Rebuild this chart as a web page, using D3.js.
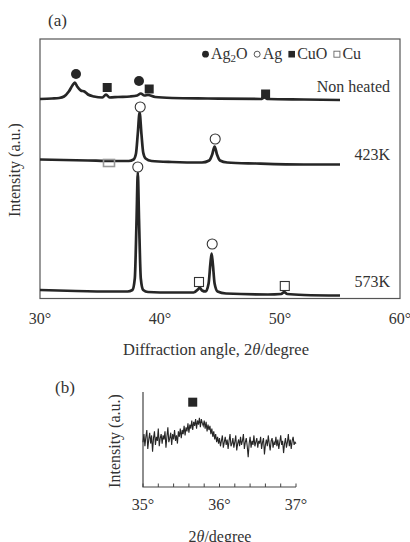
<!DOCTYPE html>
<html>
<head>
<meta charset="utf-8">
<script src="https://cdnjs.cloudflare.com/ajax/libs/d3/7.8.5/d3.min.js"></script>
<style>
  body { margin: 0; background: #fff; }
  text { font-family: "Liberation Serif", "Times New Roman", serif; fill: #333; }
</style>
</head>
<body>
<div id="chart"></div>
<script>
// (a) XRD patterns, [2theta, intensity a.u. incl. offset]
const nonHeated = [[30,199.5],[31,200],[31.6,200.5],[32,202],[32.4,207],[32.7,213],[32.9,216],[33.1,212],[33.4,208],[33.7,207],
  [34.0,204],[34.5,202],[35.2,201],[35.5,204],[35.8,201],[36.5,201.5],[37.5,202],[38.1,203],[38.4,205],[38.7,203],
  [39.0,203.5],[39.6,201.5],[41,200.5],[44,200],[48.4,199.5],[48.7,201],[49,199.5],[52,199],[55,198.5]];
const heated423 = [[30,139],[34,138],[36,137.5],[37.4,137.5],[37.8,139],[38.0,145],[38.15,165],[38.3,186],[38.45,165],[38.6,146],
  [38.8,140],[39.3,137.5],[41,136.5],[43.5,136],[44.1,138],[44.35,144],[44.55,152],[44.75,144],[45.0,138],[45.6,136],
  [48,135],[52,134],[55,134]];
const heated573 = [[30,8.5],[33,7.5],[36,7],[37.3,7],[37.7,8.5],[37.9,20],[38.05,80],[38.15,126],[38.25,80],[38.4,20],
  [38.6,8.5],[39,6.5],[41,6],[42.8,6],[43.15,9],[43.3,11],[43.5,8],[43.8,7],[44.05,15],[44.2,35],[44.3,45],[44.4,35],
  [44.55,15],[44.8,7],[45.5,5],[49,4],[50.1,4.5],[50.35,6.5],[50.6,4.5],[52,3.5],[55,3]];
const traceNames = ["Non heated", "423K", "573K"];
const traceLabelY = [206.5, 138.5, 11.5];

// peak markers [2theta, intensity]
const ag2oMarks = [[33.0,224.5],[38.25,217.5]];
const agMarks = [[38.35,191.5],[44.6,159.5],[38.15,131.5],[44.35,54.5]];
const cuoMarks = [[35.6,211],[39.1,209.5],[48.8,204.5]];
const cuMarks = [[43.25,16.5],[50.4,12.5]];
const cuFaint = [[35.75,135.5]];

const xTicksA = [30, 40, 50, 60];

// (b) zoomed scan 35-37 deg
const scanStart = 35, scanStep = 0.0125;
const scan = [
  47,53,44,51,56,42,49,54,46,52,40,50,55,45,51,48,57,44,50,53,
  46,52,49,55,43,51,58,47,50,54,45,53,49,56,48,52,46,55,51,57,
  50,56,53,59,52,58,55,61,54,60,57,63,56,62,59,64,57,63,60,65,
  58,64,61,59,63,57,62,55,60,56,59,53,57,51,55,49,53,47,51,46,
  50,44,48,52,43,47,51,45,49,42,48,53,44,46,50,43,47,52,41,46,
  49,44,51,45,48,53,42,47,50,44,36,46,51,43,48,45,52,44,47,50,
  43,48,46,51,42,47,50,38,45,49,44,52,46,41,48,50,43,47,45,51,
  44,49,42,47,52,45,48,39,46,50,43,47,53,44,49,42,48,51,45,47,
  46];
const cuoMarkB = [[35.65, 76.5]];
const xTicksB = [35, 36, 37];

const width = 410, height = 542;
const svg = d3.select("#chart").append("svg")
  .attr("width", width).attr("height", height);

// ---------- panel (a)
const x = d3.scaleLinear().domain([30, 60]).range([40, 400]);
const y = d3.scaleLinear().domain([0, 259.5]).range([298.5, 39]);

svg.append("text").attr("x", 48).attr("y", 26).style("font-size", "17px").text("(a)");

svg.append("rect")
  .attr("x", x(30)).attr("y", y(259.5))
  .attr("width", x(60) - x(30)).attr("height", y(0) - y(259.5))
  .attr("fill", "none").attr("stroke", "#555").attr("stroke-width", 1.2);

const line = d3.line().x(d => x(d[0])).y(d => y(d[1])).curve(d3.curveMonotoneX);

svg.append("g").selectAll("path")
  .data([nonHeated, heated423, heated573])
  .join("path")
  .attr("d", line)
  .attr("fill", "none")
  .attr("stroke", "#262626")
  .attr("stroke-width", 2.7)
  .attr("stroke-linejoin", "round");

svg.append("g").selectAll("text")
  .data(traceNames)
  .join("text")
  .attr("x", 390)
  .attr("y", (d, i) => y(traceLabelY[i]))
  .attr("text-anchor", "end")
  .style("font-size", "16px")
  .text(d => d);

// markers
svg.append("g").selectAll("circle").data(ag2oMarks).join("circle")
  .attr("cx", d => x(d[0])).attr("cy", d => y(d[1])).attr("r", 5).attr("fill", "#262626");
svg.append("g").selectAll("circle").data(agMarks).join("circle")
  .attr("cx", d => x(d[0])).attr("cy", d => y(d[1])).attr("r", 5)
  .attr("fill", "#fff").attr("stroke", "#333").attr("stroke-width", 1.1);
svg.append("g").selectAll("rect").data(cuoMarks).join("rect")
  .attr("x", d => x(d[0]) - 4.5).attr("y", d => y(d[1]) - 4.5)
  .attr("width", 9).attr("height", 9).attr("fill", "#262626");
svg.append("g").selectAll("rect").data(cuMarks).join("rect")
  .attr("x", d => x(d[0]) - 4.5).attr("y", d => y(d[1]) - 4.5)
  .attr("width", 9).attr("height", 9)
  .attr("fill", "#fff").attr("stroke", "#333").attr("stroke-width", 1.1);
svg.append("g").selectAll("rect").data(cuFaint).join("rect")
  .attr("x", d => x(d[0]) - 5.5).attr("y", d => y(d[1]) - 3.5)
  .attr("width", 11).attr("height", 7)
  .attr("fill", "none").attr("stroke", "#999").attr("stroke-width", 1.6);

// legend
const legend = svg.append("g").attr("transform", "translate(202,59)");
const legendItems = [
  { sym: "dot", label: ["Ag", "2", "O"] },
  { sym: "ring", label: ["Ag"] },
  { sym: "sq", label: ["CuO"] },
  { sym: "box", label: ["Cu"] }
];
let lx = 0;
legendItems.forEach(item => {
  const cx = lx + 3.5;
  if (item.sym === "dot") legend.append("circle").attr("cx", cx).attr("cy", -4.8).attr("r", 3.4).attr("fill", "#262626");
  if (item.sym === "ring") legend.append("circle").attr("cx", cx).attr("cy", -4.8).attr("r", 3)
    .attr("fill", "none").attr("stroke", "#444").attr("stroke-width", 0.9);
  if (item.sym === "sq") legend.append("rect").attr("x", cx - 3.3).attr("y", -8.1).attr("width", 6.6).attr("height", 6.6).attr("fill", "#262626");
  if (item.sym === "box") legend.append("rect").attr("x", cx - 3).attr("y", -7.8).attr("width", 6).attr("height", 6)
    .attr("fill", "none").attr("stroke", "#666").attr("stroke-width", 0.9);
  const t = legend.append("text").attr("x", lx + 9).attr("y", 0).style("font-size", "16px");
  item.label.forEach((s, i) => {
    const ts = t.append("tspan").text(s);
    if (i === 1) ts.attr("dy", 3).style("font-size", "11px");
    if (i === 2) ts.attr("dy", -3);
  });
  lx += 9 + t.node().getComputedTextLength() + 6;
});

// x tick labels and title
svg.append("g").selectAll("text").data(xTicksA).join("text")
  .attr("x", d => x(d)).attr("y", 324)
  .attr("text-anchor", "middle").style("font-size", "16px")
  .text(d => d + "°");

const xTitle = svg.append("text").attr("x", 216).attr("y", 355)
  .attr("text-anchor", "middle").style("font-size", "16.5px");
xTitle.append("tspan").text("Diffraction angle, 2");
xTitle.append("tspan").style("font-style", "italic").text("θ");
xTitle.append("tspan").text("/degree");

svg.append("text")
  .attr("transform", "translate(20,170) rotate(-90)")
  .attr("text-anchor", "middle").style("font-size", "16px")
  .text("Intensity (a.u.)");

// ---------- panel (b)
const xb = d3.scaleLinear().domain([35, 37]).range([143, 296]);
const yb = d3.scaleLinear().domain([14, 84]).range([487, 392]);

svg.append("text").attr("x", 55).attr("y", 393).style("font-size", "17px").text("(b)");

svg.append("path")
  .attr("d", `M${xb(35)},${yb(84)}V${yb(14)}H${xb(37)}`)
  .attr("fill", "none").attr("stroke", "#444").attr("stroke-width", 1.2);

svg.append("g").selectAll("line").data(d3.range(35, 37.001, 0.2)).join("line")
  .attr("x1", d => xb(d)).attr("x2", d => xb(d))
  .attr("y1", yb(14)).attr("y2", yb(14) - 3.5)
  .attr("stroke", "#444").attr("stroke-width", 1);

const lineB = d3.line().x((d, i) => xb(scanStart + i * scanStep)).y(d => yb(d));
svg.append("path").attr("d", lineB(scan))
  .attr("fill", "none").attr("stroke", "#262626").attr("stroke-width", 1.1);

svg.append("g").selectAll("rect").data(cuoMarkB).join("rect")
  .attr("x", d => xb(d[0]) - 4.5).attr("y", d => yb(d[1]) - 4.5)
  .attr("width", 9).attr("height", 9).attr("fill", "#262626");

svg.append("g").selectAll("text").data(xTicksB).join("text")
  .attr("x", d => xb(d)).attr("y", 510)
  .attr("text-anchor", "middle").style("font-size", "16px")
  .text(d => d + "°");

const xbTitle = svg.append("text").attr("x", 220).attr("y", 542)
  .attr("text-anchor", "middle").style("font-size", "16px");
xbTitle.append("tspan").text("2");
xbTitle.append("tspan").style("font-style", "italic").text("θ");
xbTitle.append("tspan").text("/degree");

svg.append("text")
  .attr("transform", "translate(120,441) rotate(-90)")
  .attr("text-anchor", "middle").style("font-size", "16px")
  .text("Intensity (a.u.)");
</script>
</body>
</html>
